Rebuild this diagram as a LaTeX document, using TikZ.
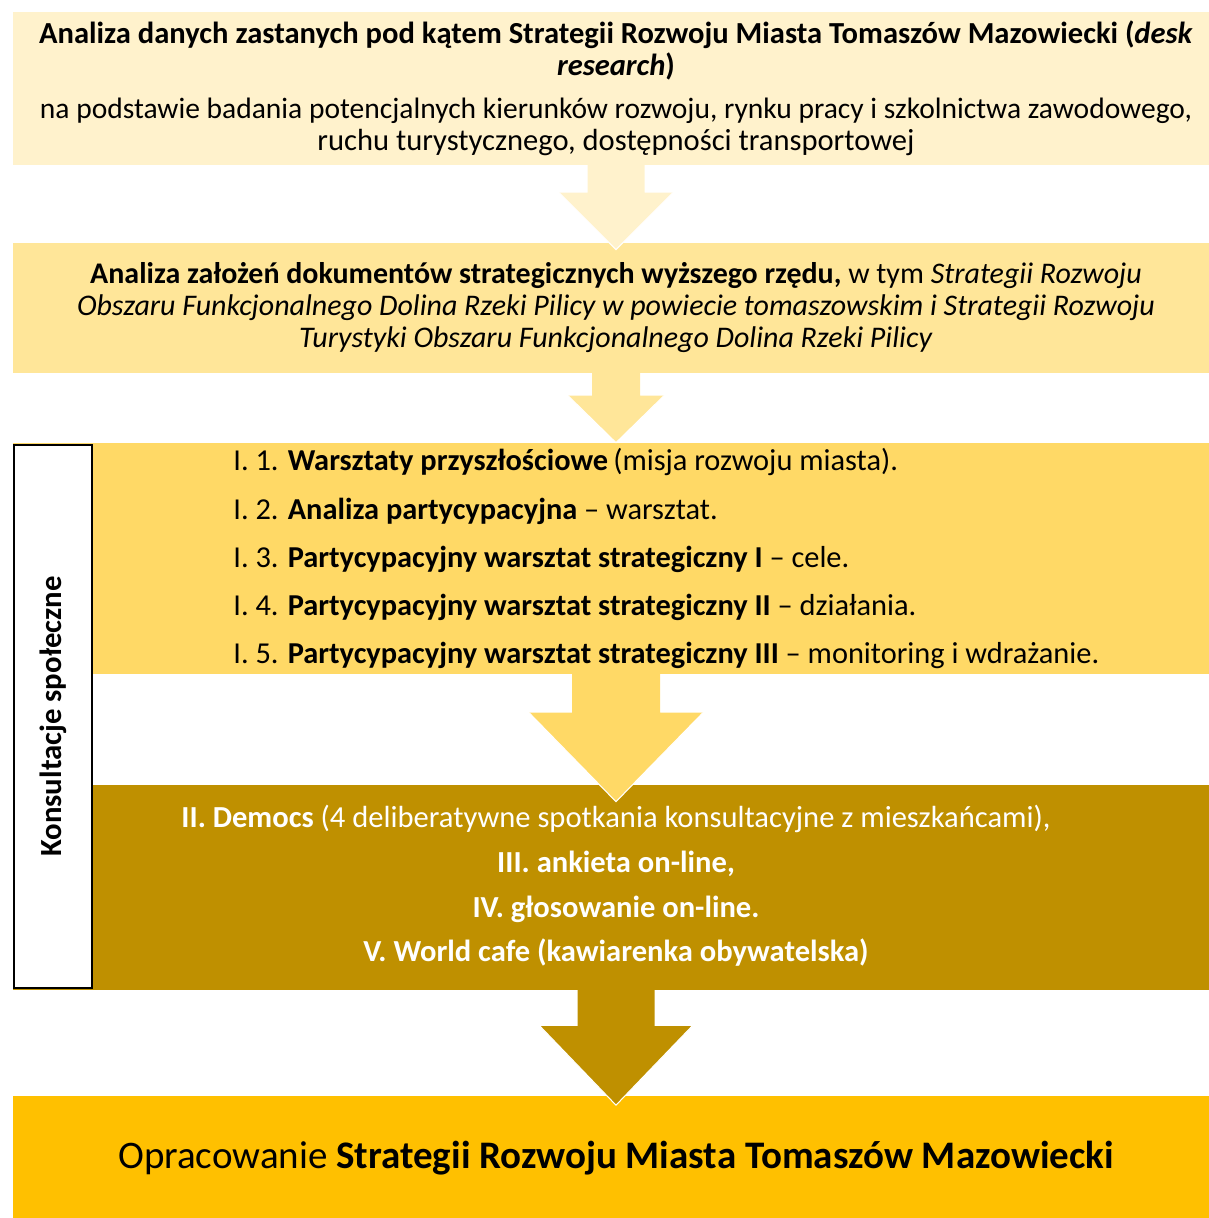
\documentclass[tikz,border=0pt]{standalone}
\usepackage{fontspec}
\setmainfont{Carlito}
\usetikzlibrary{calc}
\definecolor{cream}{HTML}{FFF2CC}
\definecolor{paleyel}{HTML}{FFE699}
\definecolor{midyel}{HTML}{FFD966}
\definecolor{darkgold}{HTML}{BF9000}
\definecolor{amber}{HTML}{FFC000}
\tikzset{
  stage/.style={minimum width=24.12cm, inner sep=0pt, align=center,
    font=\fontsize{17.4}{18.2}\selectfont},
  itemline/.style={anchor=west, inner sep=0pt, font=\fontsize{17.3}{18}\selectfont},
  democline/.style={inner sep=0pt, text=white, font=\fontsize{17.4}{18}\selectfont},
  sidebox/.style={draw=black, line width=0.9pt, fill=white, rotate=90,
    minimum width=10.86cm, minimum height=1.56cm, inner sep=0pt,
    font=\bfseries\fontsize{17.5}{18}\selectfont},
  headedge/.style={draw=white, line width=0.6pt},
}
% block arrow: from node, tip, shaft half width, head half width, head length, colour
\newcommand{\blockarrow}[6]{%
  \fill[#6] ($(#1.south)+(-#3,-1)$) -- ($(#2)+(-#3,-#5)$) -- ($(#2)+(-#4,-#5)$) -- (#2)
    -- ($(#2)+(#4,-#5)$) -- ($(#2)+(#3,-#5)$) -- ($(#1.south)+(#3,-1)$) -- cycle;
  \draw[headedge] ($(#2)+(-#4,-#5)$) -- (#2) -- ($(#2)+(#4,-#5)$);}

\begin{document}
\begin{tikzpicture}[x=0.02cm, y=-0.02cm]
  \useasboundingbox (0,0) rectangle (1209,1218);

  % --- stages ---
  \node[stage, fill=cream, minimum height=3.06cm] (b1) at (616,88.5)
    {\textbf{Analiza danych zastanych pod kątem Strategii Rozwoju Miasta Tomaszów Mazowiecki (\textit{desk}}\\
     \textbf{\textit{research})}\\[6pt]
     \fontsize{16.8}{18.2}\selectfont
     na podstawie badania potencjalnych kierunków rozwoju, rynku pracy i szkolnictwa zawodowego,\\
     ruchu turystycznego, dostępności transportowej};
  \node[stage, fill=paleyel, minimum height=2.6cm, font=\fontsize{17.05}{18.2}\selectfont] (b2) at (616,308)
    {\textbf{Analiza założeń dokumentów strategicznych wyższego rzędu,} w tym \textit{Strategii Rozwoju}\\
     \textit{Obszaru Funkcjonalnego Dolina Rzeki Pilicy w powiecie tomaszowskim i Strategii Rozwoju}\\
     \textit{Turystyki Obszaru Funkcjonalnego Dolina Rzeki Pilicy}};
  \node[stage, fill=midyel, minimum height=4.62cm] (b3) at (616,558.5) {};
  \node[stage, fill=darkgold, minimum height=4.1cm] (b4) at (616,887.5) {};
  \node[stage, fill=amber, minimum height=2.5cm,
    font=\fontsize{22.2}{26}\selectfont] (b5) at (616,1158)
    {Opracowanie \textbf{Strategii Rozwoju Miasta Tomaszów Mazowiecki}};

  % --- workshops ---
  \node[itemline] (w1) at (233,462) {I. 1. \textbf{Warsztaty przyszłościowe}\,(misja rozwoju miasta).};
  \node[itemline] (w2) at (233,511) {I. 2. \textbf{Analiza partycypacyjna} – warsztat.};
  \node[itemline] (w3) at (233,559) {I. 3. \textbf{Partycypacyjny warsztat strategiczny I} – cele.};
  \node[itemline] (w4) at (233,607) {I. 4. \textbf{Partycypacyjny warsztat strategiczny II} – działania.};
  \node[itemline] (w5) at (233,655) {I. 5. \textbf{Partycypacyjny warsztat strategiczny III} – monitoring i wdrażanie.};

  % --- consultations ---
  \node[democline] (d1) at (616,819) {\textbf{II. Democs} (4 deliberatywne spotkania konsultacyjne z mieszkańcami),};
  \node[democline] (d2) at (616,864) {\textbf{III. ankieta on-line,}};
  \node[democline] (d3) at (616,909) {\textbf{IV. głosowanie on-line.}};
  \node[democline] (d4) at (616,953) {\textbf{V. World cafe (kawiarenka obywatelska)}};

  \node[sidebox] (kons) at (53,716.5) {Konsultacje społeczne};

  % --- arrows ---
  \coordinate (t1) at ($(b2.north)+(0,7)$);
  \coordinate (t2) at ($(b3.north)+(0,0)$);
  \coordinate (t3) at ($(b4.north)+(0,17)$);
  \coordinate (t4) at ($(b5.north)+(0,10)$);
  \blockarrow{b1}{t1}{28.5}{57}{57}{cream}
  \blockarrow{b2}{t2}{24}{48}{47}{paleyel}
  \blockarrow{b3}{t3}{44}{87}{89}{midyel}
  \blockarrow{b4}{t4}{38.5}{76}{79}{darkgold}
\end{tikzpicture}
\end{document}
